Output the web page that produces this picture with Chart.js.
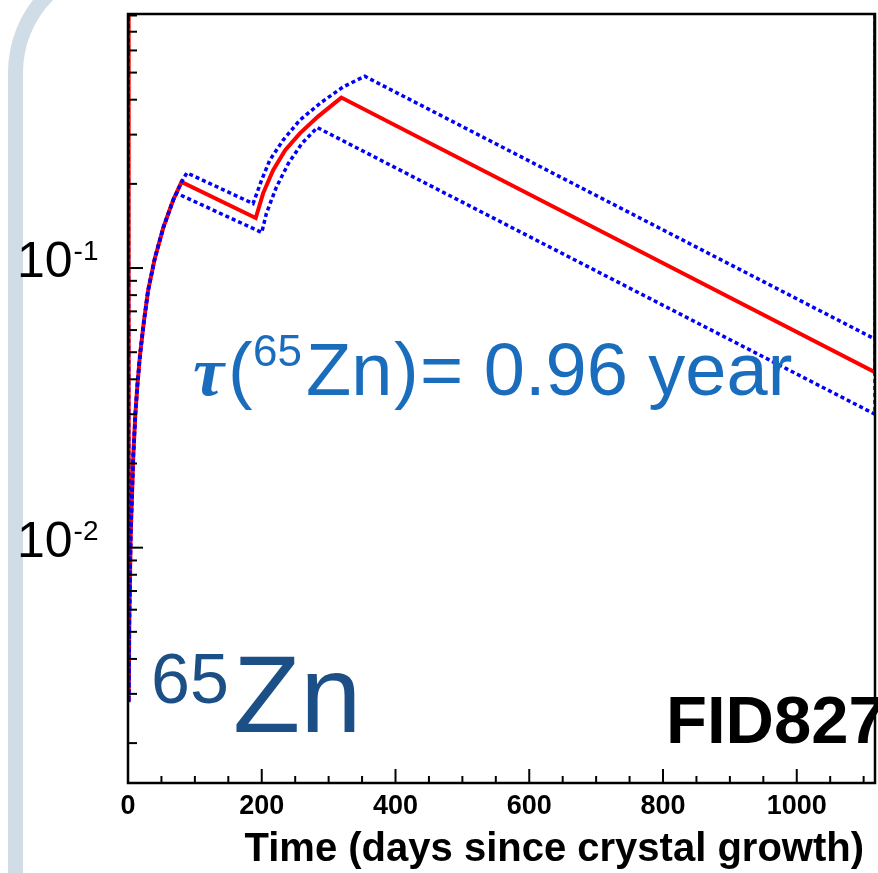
<!DOCTYPE html>
<html><head><meta charset="utf-8">
<script src="https://cdn.jsdelivr.net/npm/chart.js@4.4.1/dist/chart.umd.min.js"></script>
<style>html,body{margin:0;padding:0;background:#fff;overflow:hidden}#wrap{width:878px;height:873px;position:relative}</style>
</head><body><div id="wrap"><canvas id="c" width="878" height="873"></canvas></div>
<script>
// ---- data (days since crystal growth, activity) ----
const centralDays   = [0, 1, 2, 4, 8, 11, 14, 18, 24, 30, 40, 53, 68, 80, 191, 202, 217, 235, 257, 284, 319, 1117, 1117];
const centralValues = [5, 0.0028, 0.0055, 0.011, 0.0215, 0.030, 0.038, 0.049, 0.065, 0.083, 0.108, 0.140, 0.176, 0.203, 0.151, 0.185, 0.224, 0.264, 0.303, 0.348, 0.407, 0.0424, 5];
const upperDays     = [0, 1, 2, 4, 8, 11, 14, 18, 24, 30, 40, 53, 68, 80, 88, 187, 200, 212, 232, 257, 287, 322, 354, 1117, 1117];
const upperValues   = [5, 0.0028, 0.0055, 0.011, 0.0215, 0.030, 0.038, 0.049, 0.065, 0.083, 0.108, 0.140, 0.176, 0.203, 0.219, 0.170, 0.207, 0.243, 0.287, 0.338, 0.388, 0.445, 0.485, 0.0557, 5];
const lowerDays     = [0, 1, 2, 4, 8, 11, 14, 18, 24, 30, 40, 53, 68, 73, 200, 207, 222, 240, 260, 283, 1117, 1117];
const lowerValues   = [5, 0.0028, 0.0055, 0.011, 0.0215, 0.030, 0.038, 0.049, 0.065, 0.083, 0.108, 0.140, 0.176, 0.185, 0.134, 0.157, 0.195, 0.237, 0.279, 0.318, 0.0300, 5];
const xTickStep = 200, xMinorStep = 50;
const xMin = 0, xMax = 1117, yMin = 0.00144, yMax = 0.81;
const yLabelExponents = [-1, -2];
const xTitle = 'Time (days since crystal growth)';
const isotopeMass = '65', isotopeName = 'Zn';
const lifetimeText = '= 0.96 year';
const detectorName = 'FID827';

const toXY = (d, v) => d.map((x, i) => ({x: x, y: v[i]}));

const decoPlugin = {
  id: 'deco',
  beforeDraw(chart) {
    const ctx = chart.ctx;
    ctx.save();
    ctx.fillStyle = '#fff';
    ctx.fillRect(0, 0, chart.width, chart.height);
    ctx.strokeStyle = '#d0dce6';
    ctx.lineWidth = 15;
    ctx.beginPath();
    ctx.moveTo(15.5, 900);
    ctx.lineTo(15.5, 72.5);
    ctx.arc(125.5, 72.5, 110, Math.PI, 1.5 * Math.PI);
    ctx.lineTo(400, -37.5);
    ctx.stroke();
    ctx.restore();
  },
  afterDraw(chart) {
    const ctx = chart.ctx, a = chart.chartArea;
    const xs = chart.scales.x, ys = chart.scales.y;
    ctx.save();
    // frame
    ctx.strokeStyle = '#000';
    ctx.lineWidth = 2.5;
    ctx.strokeRect(a.left, a.top, a.right - a.left, a.bottom - a.top);
    // y ticks (inward)
    ctx.lineWidth = 2;
    for (let e = -3; e <= 0; e++) {
      for (let m = 1; m <= 9; m++) {
        const v = m * Math.pow(10, e);
        if (v < yMin || v > yMax) continue;
        const py = ys.getPixelForValue(v);
        const len = m === 1 ? 15 : 9;
        ctx.beginPath(); ctx.moveTo(a.left, py); ctx.lineTo(a.left + len, py); ctx.stroke();
      }
    }
    // x ticks (inward)
    for (let t = xMin; t <= xMax; t += xMinorStep) {
      const px = xs.getPixelForValue(t);
      const len = t % xTickStep === 0 ? 14 : 7;
      ctx.beginPath(); ctx.moveTo(px, a.bottom); ctx.lineTo(px, a.bottom - len); ctx.stroke();
    }
    // y labels 10^e
    ctx.fillStyle = '#000';
    ctx.textBaseline = 'alphabetic';
    yLabelExponents.forEach(e => {
      const py = ys.getPixelForValue(Math.pow(10, e));
      ctx.font = '50px "Liberation Sans", Arial, sans-serif';
      ctx.fillText('10', 17, py + 9);
      const w = ctx.measureText('10').width;
      ctx.font = '28px "Liberation Sans", Arial, sans-serif';
      ctx.fillText(String(e), 17 + w + 1, py - 8);
    });
    // x title
    ctx.font = 'bold 40px "Liberation Sans", Arial, sans-serif';
    ctx.textAlign = 'right';
    ctx.fillText(xTitle, 864, 861);
    ctx.textAlign = 'left';
    // lifetime annotation
    ctx.fillStyle = '#1a6dbd';
    ctx.font = 'italic bold 70px "Liberation Serif", "Times New Roman", serif';
    ctx.fillText('\u03C4', 193, 395);
    ctx.font = '74px "Liberation Sans", Arial, sans-serif';
    ctx.fillText('(', 228, 395);
    ctx.font = '44px "Liberation Sans", Arial, sans-serif';
    ctx.fillText(isotopeMass, 253, 366);
    ctx.font = '74px "Liberation Sans", Arial, sans-serif';
    ctx.fillText(isotopeName, 306, 395);
    ctx.fillText(')', 394, 395);
    ctx.fillText(lifetimeText, 420, 395);
    // big isotope label
    ctx.fillStyle = '#1b4f86';
    ctx.font = '70px "Liberation Sans", Arial, sans-serif';
    ctx.fillText(isotopeMass, 151, 703);
    ctx.font = '110px "Liberation Sans", Arial, sans-serif';
    ctx.fillText(isotopeName, 233, 732);
    // detector name
    ctx.fillStyle = '#000';
    ctx.font = 'bold 67px "Liberation Sans", Arial, sans-serif';
    ctx.fillText(detectorName, 666, 743);
    ctx.restore();
  }
};

new Chart(document.getElementById('c'), {
  type: 'line',
  data: {
    datasets: [
      {label: 'upper', data: toXY(upperDays, upperValues), borderColor: '#0000ff', borderWidth: 3.5, borderDash: [4, 3], pointRadius: 0, tension: 0, fill: false},
      {label: 'lower', data: toXY(lowerDays, lowerValues), borderColor: '#0000ff', borderWidth: 3.5, borderDash: [4, 3], pointRadius: 0, tension: 0, fill: false},
      {label: 'central', data: toXY(centralDays, centralValues), borderColor: '#ff0000', borderWidth: 4, pointRadius: 0, tension: 0, fill: false}
    ]
  },
  options: {
    responsive: false,
    animation: false,
    devicePixelRatio: 1,
    events: [],
    layout: {padding: {left: 0, right: 3, top: 14, bottom: 0}},
    plugins: {legend: {display: false}, tooltip: {enabled: false}, title: {display: false}},
    scales: {
      x: {
        type: 'linear', min: xMin, max: xMax,
        grid: {display: false, drawTicks: false},
        border: {display: false},
        ticks: {stepSize: xTickStep, includeBounds: false, autoSkip: false, maxRotation: 0, color: '#000', padding: 7,
                callback: v => String(v),
                font: {family: '"Liberation Sans", Arial, sans-serif', weight: 'bold', size: 27}},
        afterFit: s => { s.height = 90; }
      },
      y: {
        type: 'logarithmic', min: yMin, max: yMax,
        grid: {display: false, drawTicks: false},
        border: {display: false},
        ticks: {display: false},
        afterFit: s => { s.width = 128; }
      }
    }
  },
  plugins: [decoPlugin]
});
</script>
</body></html>
